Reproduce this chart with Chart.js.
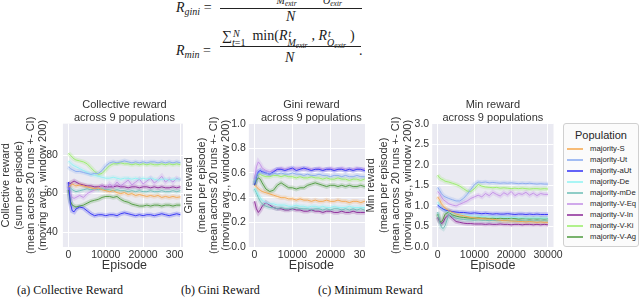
<!DOCTYPE html>
<html><head><meta charset="utf-8">
<script src="https://cdn.jsdelivr.net/npm/chart.js@4"></script>
<style>
html,body{margin:0;padding:0;background:#fff;width:640px;height:298px;overflow:hidden;position:relative;font-family:"Liberation Sans",Arial,sans-serif;}
.box{position:absolute;overflow:hidden;}
.box canvas{position:absolute;left:0;top:0;}
.m{position:absolute;font-family:"Liberation Serif","DejaVu Serif",serif;font-size:14px;color:#1a1a1a;white-space:nowrap;line-height:14px;}
.m i{font-style:italic;}
.sb{font-size:10px;position:relative;top:3px;font-style:italic;}
.ss{position:relative;display:inline-block;height:0;vertical-align:baseline;}
.up{position:absolute;left:1px;top:-11px;font-size:10px;line-height:10px;font-style:italic;}
.dn{position:absolute;left:0;top:-2px;font-size:10px;line-height:10px;font-style:italic;}
.e{font-size:7.5px;font-style:italic;position:relative;top:2px;}
.bar{position:absolute;height:1px;background:#222;}
.cap{position:absolute;top:283px;font-family:"Liberation Serif","Times New Roman",serif;font-size:12px;line-height:14px;color:#111;white-space:nowrap;}
#legend{position:absolute;left:563px;top:123px;width:74px;height:122px;border:1px solid #d0d0d0;border-radius:3px;background:#fbfbfb;z-index:5;}
#legend .lt{position:absolute;left:0;width:74px;top:5px;text-align:center;font-size:11px;line-height:13px;color:#262626;}
#legend .row{position:absolute;left:0;height:11px;width:74px;}
#legend .h{position:absolute;left:3px;top:5px;width:16px;height:2px;}
#legend .tx{position:absolute;left:26px;top:0;font-size:7.7px;line-height:11px;color:#262626;white-space:nowrap;}
</style>
</head>
<body>
<!-- equations -->
<div class="m" style="left:268px;top:-13px;"><i>R</i><span class="ss" style="width:23px"><span class="up">t</span><span class="dn">M<span class="e">extr</span></span></span> + <i>R</i><span class="ss" style="width:22px"><span class="up">t</span><span class="dn">O<span class="e">extr</span></span></span></div>
<div class="m" style="left:176px;top:1px;"><i>R</i><span class="sb">gini</span> =</div>
<div class="bar" style="left:220px;top:8px;width:142px;"></div>
<div class="m" style="left:286px;top:10px;"><i>N</i></div>
<div class="m" style="left:222px;top:29px;">&sum;<span class="ss" style="width:17px"><span class="up">N</span><span class="dn">t<span style="font-style:normal">=1</span></span></span> min(<i>R</i><span class="ss" style="width:24px"><span class="up">t</span><span class="dn">M<span class="e">extr</span></span></span>, <i>R</i><span class="ss" style="width:23px"><span class="up">t</span><span class="dn">O<span class="e">extr</span></span></span>)</div>
<div class="m" style="left:176px;top:44px;"><i>R</i><span class="sb">min</span> =</div>
<div class="bar" style="left:220px;top:46px;width:141px;"></div>
<div class="m" style="left:285px;top:51px;"><i>N</i></div>
<div class="m" style="left:359px;top:44px;">.</div>

<div class="box" style="left:0;top:90px;width:183px;height:183px;"><canvas id="c1" width="186" height="183" style="width:186px;height:183px"></canvas></div>
<div class="box" style="left:183px;top:90px;width:182px;height:183px;"><canvas id="c2" width="191" height="183" style="width:191px;height:183px"></canvas></div>
<div class="box" style="left:365px;top:90px;width:200px;height:183px;"><canvas id="c3" width="200" height="183" style="width:200px;height:183px"></canvas></div>
<div id="legend"></div>

<div class="cap" style="left:17px;">(a) Collective Reward</div>
<div class="cap" style="left:181px;">(b) Gini Reward</div>
<div class="cap" style="left:318px;">(c) Minimum Reward</div>

<script>
// ---------------- data ----------------
const EPISODES = [0,500,1000,1500,2000,3000,4000,5000,6000,7000,8000,9000,10000,11000,12000,13000,14000,15000,16000,17000,18000,19000,20000,21000,22000,23000,24000,25000,26000,27000,28000,29000,30000];
const SERIES = ['majority-S','majority-Ut','majority-aUt','majority-De','majority-mDe','majority-V-Eq','majority-V-In','majority-V-Ki','majority-V-Ag'];
const X_TICKS = [0,10000,20000,30000];
const COLLECTIVE_TICKS = [40,60,80];
const GINI_TICKS = [0,0.2,0.4,0.6,0.8,1.0];
const MIN_TICKS = [0,0.5,1.0,1.5,2.0,2.5,3.0];

const COLLECTIVE_REWARD = [
 [63.5,64,65,64.5,64,64.5,64,63.5,63,62.5,63,62,61.5,61,61.5,60.5,60,60.5,59.5,60,59,59.5,59,58.5,59,58.5,59,58,58.5,58,58.5,58,58.3],
 [74,73,72.5,72,71.5,71.5,71,70.5,70,70.5,70.5,72,74.5,76,76.5,76,76.5,77,76.5,76,76.5,76,76.5,76,76.5,76.5,76,76.5,76,76.5,76,76.5,76],
 [66,55,51,50.5,52,53,52.5,51,49.5,48.5,49,49,48.5,49,49,48.5,49.5,50,49.5,49,48.5,49,48.5,49,49,48.5,49,49.5,49,48.5,49,49.5,49],
 [77,76,75,74.5,74,73,72,71,70,69.5,69,68.5,68,68,68.5,68,67.5,68,68,67.5,68,67.5,68,67.5,68,67.5,67,67.5,67.5,67,67.5,67.5,67.5],
 [64,63,62,61.5,61,61.5,62,62.5,62,62.5,62,62.5,62,62,61.5,62,61.5,61.5,61,61.5,61,61.5,61,61,61.5,61,61,61.5,61,61,61.5,61,61.5],
 [64,60,58,57.5,58,59,58,60,61,62,63,64,62.5,65,63.5,66,64,65.5,67,64.5,66,67.5,65,66.5,68,65.5,67,69,66,67.5,66,68,67],
 [66,65,66,66.5,66,65,64.5,64,64,63.5,63.5,64,63.5,63.5,63.5,64,63.5,63.5,63,63.5,63.5,63,63.5,63.5,63,63.5,63,63.5,63,63,63.5,63,63.5],
 [81,80,79,78,77.5,77,76.5,75.5,73.5,71.5,70,70.5,72.5,74.5,75.5,75.5,76,75.5,75.5,75,75.5,75,75.5,75,75.5,75,75,75.5,75,75.5,75,75.5,75],
 [62,56,54,53.5,53,53.5,54,55,56,56.5,57,58,58.5,58.5,58,58.5,57,56,55.5,54.5,54,53.5,53.5,54,53.5,54,54,53.5,54,54,53.5,54,54]
];
const GINI_REWARD = [
 [0.50,0.49,0.47,0.46,0.45,0.44,0.43,0.42,0.41,0.40,0.40,0.39,0.39,0.38,0.39,0.38,0.38,0.37,0.38,0.37,0.37,0.38,0.37,0.37,0.38,0.37,0.37,0.36,0.37,0.37,0.36,0.37,0.37],
 [0.52,0.58,0.60,0.61,0.60,0.60,0.59,0.60,0.59,0.60,0.59,0.59,0.60,0.59,0.59,0.58,0.59,0.58,0.58,0.59,0.58,0.58,0.57,0.58,0.58,0.57,0.58,0.57,0.57,0.58,0.57,0.57,0.57],
 [0.50,0.57,0.61,0.62,0.61,0.60,0.59,0.61,0.63,0.63,0.62,0.63,0.64,0.62,0.63,0.64,0.63,0.62,0.63,0.63,0.62,0.63,0.63,0.62,0.63,0.63,0.62,0.63,0.62,0.63,0.63,0.62,0.63],
 [0.48,0.45,0.42,0.40,0.38,0.36,0.35,0.35,0.34,0.34,0.34,0.33,0.33,0.34,0.33,0.33,0.32,0.33,0.33,0.32,0.33,0.32,0.32,0.33,0.32,0.32,0.32,0.33,0.32,0.32,0.32,0.32,0.32],
 [0.47,0.44,0.40,0.37,0.35,0.33,0.32,0.32,0.31,0.32,0.31,0.31,0.31,0.32,0.31,0.31,0.31,0.30,0.31,0.31,0.30,0.31,0.30,0.31,0.31,0.30,0.31,0.30,0.31,0.30,0.31,0.30,0.31],
 [0.55,0.65,0.69,0.67,0.64,0.62,0.61,0.62,0.63,0.64,0.63,0.64,0.63,0.64,0.64,0.63,0.64,0.63,0.63,0.64,0.63,0.63,0.64,0.63,0.63,0.64,0.63,0.63,0.63,0.64,0.63,0.63,0.63],
 [0.37,0.31,0.28,0.30,0.33,0.36,0.34,0.32,0.31,0.31,0.30,0.30,0.31,0.30,0.30,0.29,0.29,0.30,0.29,0.29,0.28,0.29,0.29,0.28,0.28,0.29,0.28,0.28,0.29,0.28,0.28,0.28,0.28],
 [0.52,0.57,0.59,0.59,0.58,0.57,0.57,0.58,0.58,0.57,0.58,0.57,0.57,0.56,0.57,0.56,0.56,0.57,0.56,0.56,0.55,0.56,0.55,0.55,0.56,0.55,0.55,0.54,0.55,0.55,0.54,0.55,0.55],
 [0.50,0.54,0.56,0.55,0.52,0.47,0.45,0.46,0.50,0.52,0.50,0.48,0.48,0.47,0.48,0.48,0.50,0.51,0.52,0.51,0.50,0.49,0.50,0.50,0.49,0.50,0.49,0.50,0.49,0.49,0.50,0.49,0.49]
];
const MIN_REWARD = [
 [1.22,1.15,1.05,1.00,0.95,0.88,0.84,0.80,0.78,0.76,0.74,0.72,0.71,0.70,0.69,0.68,0.68,0.67,0.66,0.65,0.64,0.64,0.63,0.63,0.62,0.62,0.61,0.62,0.61,0.60,0.61,0.60,0.60],
 [1.45,1.38,1.30,1.25,1.22,1.18,1.15,1.12,1.12,1.18,1.28,1.40,1.52,1.58,1.57,1.58,1.56,1.57,1.56,1.55,1.56,1.55,1.56,1.55,1.54,1.55,1.54,1.55,1.54,1.53,1.54,1.53,1.53],
 [1.02,0.98,0.95,0.92,0.90,0.88,0.86,0.85,0.84,0.84,0.83,0.82,0.83,0.82,0.81,0.82,0.81,0.80,0.81,0.80,0.80,0.81,0.80,0.79,0.80,0.80,0.79,0.80,0.79,0.80,0.79,0.79,0.79],
 [1.10,1.02,0.95,0.92,0.90,0.85,0.82,0.80,0.79,0.78,0.77,0.76,0.75,0.75,0.74,0.74,0.73,0.73,0.72,0.73,0.72,0.72,0.71,0.72,0.71,0.71,0.70,0.71,0.70,0.71,0.70,0.70,0.70],
 [0.85,0.62,0.48,0.45,0.52,0.78,0.74,0.70,0.68,0.67,0.66,0.66,0.65,0.66,0.65,0.65,0.64,0.65,0.64,0.64,0.65,0.64,0.64,0.63,0.64,0.64,0.63,0.64,0.63,0.64,0.63,0.64,0.63],
 [1.35,1.30,1.22,1.15,1.12,1.05,1.02,1.00,1.04,1.08,1.12,1.18,1.22,1.26,1.22,1.30,1.25,1.33,1.28,1.24,1.32,1.27,1.35,1.25,1.30,1.28,1.33,1.26,1.31,1.25,1.30,1.28,1.28],
 [0.72,0.62,0.57,0.60,0.70,0.78,0.70,0.62,0.60,0.58,0.57,0.57,0.56,0.56,0.56,0.55,0.56,0.55,0.55,0.56,0.55,0.55,0.54,0.55,0.55,0.54,0.55,0.55,0.54,0.55,0.54,0.55,0.54],
 [1.75,1.68,1.65,1.63,1.60,1.58,1.55,1.52,1.48,1.42,1.36,1.35,1.42,1.52,1.48,1.46,1.45,1.44,1.45,1.43,1.44,1.43,1.42,1.43,1.42,1.43,1.42,1.41,1.42,1.42,1.41,1.42,1.41],
 [0.80,0.65,0.60,0.68,0.80,0.85,0.78,0.75,0.73,0.72,0.71,0.70,0.70,0.71,0.70,0.70,0.69,0.70,0.69,0.70,0.69,0.69,0.70,0.69,0.68,0.69,0.69,0.68,0.69,0.68,0.69,0.68,0.69]
];

// ---------------- style ----------------
const COLORS = ['#f5a54a','#86a8f0','#2f2ff5','#8ef3f3','#6bbdb5','#c28ee6','#8a2596','#98ee66','#4c9a3c'];
const FONT = "'Liberation Sans', Arial, sans-serif";
const TXT = '#333333';

function rgba(hex, a) {
  const n = parseInt(hex.slice(1), 16);
  return `rgba(${(n>>16)&255},${(n>>8)&255},${n&255},${a})`;
}

// legend
const lg = document.getElementById('legend');
lg.innerHTML = '<div class="lt">Population</div>' + SERIES.map((s, i) =>
  `<div class="row" style="top:${18.5 + i * 11}px"><div class="h" style="background:${rgba(COLORS[i],0.75)}"></div><div class="tx">${s}</div></div>`).join('');

const bgPlugin = {
  id: 'bgPlugin',
  beforeDraw(c) {
    const a = c.chartArea, ctx = c.ctx;
    ctx.save();
    ctx.fillStyle = '#EAEAF2';
    ctx.fillRect(a.left, a.top, a.right - a.left, a.bottom - a.top);
    ctx.restore();
  }
};

function makeChart(id, values, opt) {
  const lines = values.map((vals, i) => ({
    label: SERIES[i],
    data: EPISODES.map((e, k) => ({x: e, y: vals[k]})),
    borderColor: rgba(COLORS[i], 0.9),
    borderWidth: 1,
    pointRadius: 0,
    tension: 0,
    fill: false
  }));
  const bands = values.map((vals, i) => ({
    label: SERIES[i] + ' CI',
    data: EPISODES.map((e, k) => ({x: e, y: vals[k]})),
    borderColor: rgba(COLORS[i], 0.22),
    borderWidth: 4.5,
    pointRadius: 0,
    tension: 0,
    fill: false
  }));
  return new Chart(document.getElementById(id), {
    type: 'line',
    data: {datasets: lines.concat(bands)},
    plugins: [bgPlugin],
    options: {
      responsive: false,
      animation: false,
      events: [],
      layout: {padding: {left: 0, right: opt.padRight || 0, top: 0, bottom: 0}},
      plugins: {
        legend: {display: false},
        tooltip: {enabled: false},
        title: {
          display: true, text: opt.title, fullSize: false, color: TXT,
          font: {family: FONT, size: 11, weight: 'normal', lineHeight: 1.12},
          padding: {top: 9, bottom: 0}
        }
      },
      scales: {
        x: {
          type: 'linear', min: -1500, max: 31500,
          afterBuildTicks: s => { s.ticks = X_TICKS.map(v => ({value: v})); },
          afterFit: s => { s.height = 26; s.paddingLeft = 0; s.paddingRight = 0; },
          grid: {color: '#ffffff', lineWidth: 1, drawTicks: false},
          border: {display: false},
          ticks: {color: TXT, font: {family: FONT, size: 10.5}, padding: 1.5, maxRotation: 0, autoSkip: false, callback: v => String(v)},
          title: {display: true, text: 'Episode', color: TXT, font: {family: FONT, size: 12.5}, padding: 0}
        },
        y: {
          type: 'linear', min: opt.min, max: opt.max,
          afterBuildTicks: s => { s.ticks = opt.ticks.map(v => ({value: v})); },
          afterFit: s => { s.width = opt.yWidth; s.paddingTop = 0; s.paddingBottom = 0; },
          grid: {color: '#ffffff', lineWidth: 1, drawTicks: false},
          border: {display: false},
          ticks: {color: TXT, font: {family: FONT, size: 10.5}, padding: opt.tickPad, callback: opt.fmt},
          title: {display: true, text: opt.ytitle, color: TXT, font: {family: FONT, size: 11, lineHeight: 1.12}, padding: 0}
        }
      }
    }
  });
}

makeChart('c1', COLLECTIVE_REWARD, {
  title: ['Collective reward', 'across 9 populations'],
  ytitle: ['Collective reward', '(sum per episode)', '(mean across 20 runs +- CI)', '(moving avg., window 200)'],
  min: 32.2, max: 96.4, ticks: COLLECTIVE_TICKS, yWidth: 62.9, tickPad: 5,
  fmt: v => String(v)
});
makeChart('c2', GINI_REWARD, {
  title: ['Gini reward', 'across 9 populations'],
  ytitle: ['Gini reward', '(mean per episode)', '(mean across 20 runs +- CI)', '(moving avg., window 200)'],
  min: 0, max: 1, ticks: GINI_TICKS, yWidth: 65.85, tickPad: 3,
  fmt: v => v.toFixed(1)
});
makeChart('c3', MIN_REWARD, {
  title: ['Min reward', 'across 9 populations'],
  ytitle: ['Min reward', '(mean per episode)', '(mean across 20 runs +- CI)', '(moving avg., window 200)'],
  min: 0, max: 3, ticks: MIN_TICKS, yWidth: 67.2, tickPad: 3, padRight: 11.5,
  fmt: v => v.toFixed(1)
});
</script>
</body></html>
